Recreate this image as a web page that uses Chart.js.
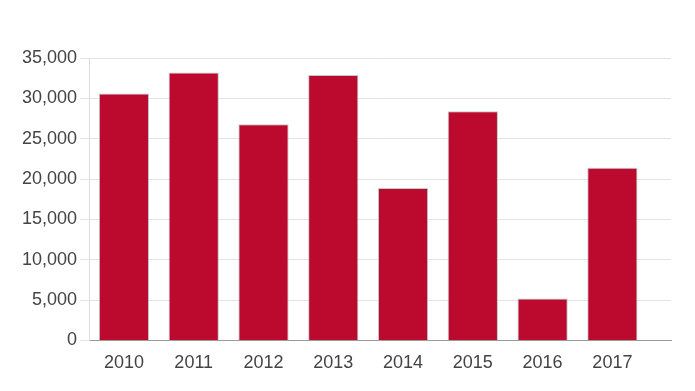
<!DOCTYPE html>
<html>
<head>
<meta charset="utf-8">
<script src="https://cdn.jsdelivr.net/npm/chart.js@4/dist/chart.umd.min.js"></script>
<style>
  html, body { margin: 0; padding: 0; background: #fff; }
  #wrap { width: 695px; height: 391px; }
</style>
</head>
<body>
<div id="wrap"><canvas id="grafico"></canvas></div>
<script>
var anos = ["2010", "2011", "2012", "2013", "2014", "2015", "2016", "2017"];
var valores = [30600, 33200, 26800, 32900, 18900, 28400, 5200, 21400];
var passoY = 5000;
var maxY = 35000;

new Chart(document.getElementById("grafico"), {
    type: 'bar',
    data: {
        labels: anos,
        datasets: [{
            label: "Total",
            data: valores,
            backgroundColor: "#bc0a2e",
            borderColor: "rgba(175,200,205,0.9)",
            borderWidth: 1,
            categoryPercentage: 1,
            barPercentage: 0.72
        }]
    },
    options: {
        responsive: true,
        maintainAspectRatio: false,
        animation: false,
        layout: {
            padding: { top: 58, left: 19, right: 24, bottom: 5 }
        },
        plugins: {
            legend: { display: false },
            tooltip: { enabled: false }
        },
        scales: {
            x: {
                grid: { display: false, drawTicks: false },
                border: { display: true, color: "#9a9a9a" },
                ticks: {
                    color: "#444",
                    padding: 12,
                    font: { family: "Liberation Sans, Arial, sans-serif", size: 18 }
                },
                // espaco extra a direita, como no original
                afterBuildTicks: function (scale) {
                    scale._valueRange = 8.34;
                }
            },
            y: {
                min: 0,
                max: maxY,
                grid: { color: "#e3e3e3", tickLength: 9 },
                border: { color: "#dcdcdc" },
                ticks: {
                    stepSize: passoY,
                    color: "#444",
                    padding: 3,
                    font: { family: "Liberation Sans, Arial, sans-serif", size: 18 },
                    callback: function (v) { return v.toLocaleString('en-US'); }
                }
            }
        }
    }
});
</script>
</body>
</html>
